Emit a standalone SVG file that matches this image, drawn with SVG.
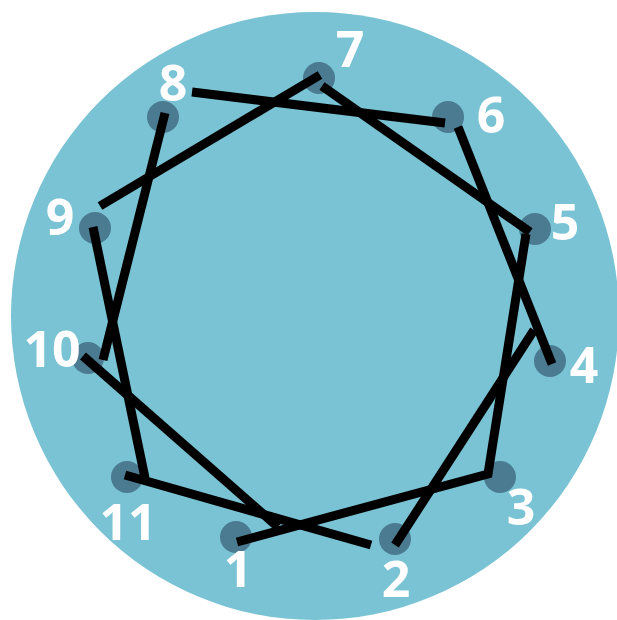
<svg xmlns="http://www.w3.org/2000/svg" width="617" height="620" viewBox="0 0 617 620">
<style>
.bg{fill:#79c3d4}
.dot{fill:#4b7b90}
.lbl{fill:#ffffff;font-family:"Open Sans","Liberation Sans",sans-serif;font-size:50px;font-weight:700;text-anchor:middle}
.ln{fill:none;stroke:#000000;stroke-width:9;stroke-linecap:butt;stroke-linejoin:miter}
</style>
<circle class="bg" cx="315" cy="316" r="304"/>
<g id="n1"><circle class="dot" cx="236" cy="537" r="16"/><text class="lbl" x="238" y="587">1</text></g>
<g id="n2"><circle class="dot" cx="395" cy="539" r="16"/><text class="lbl" x="396" y="597">2</text></g>
<g id="n3"><circle class="dot" cx="500" cy="477" r="16"/><text class="lbl" x="521" y="525">3</text></g>
<g id="n4"><circle class="dot" cx="550" cy="361" r="16"/><text class="lbl" x="584" y="383">4</text></g>
<g id="n5"><circle class="dot" cx="535" cy="229" r="16"/><text class="lbl" x="565" y="240">5</text></g>
<g id="n6"><circle class="dot" cx="448" cy="117" r="16"/><text class="lbl" x="491" y="133">6</text></g>
<g id="n7"><circle class="dot" cx="319" cy="78" r="16"/><text class="lbl" x="350" y="67">7</text></g>
<g id="n8"><circle class="dot" cx="163" cy="117" r="16"/><text class="lbl" x="173" y="101">8</text></g>
<g id="n9"><circle class="dot" cx="95" cy="228" r="16"/><text class="lbl" x="60" y="235">9</text></g>
<g id="n10"><circle class="dot" cx="88" cy="358" r="16"/><text class="lbl" x="52" y="367">10</text></g>
<g id="n11"><circle class="dot" cx="127" cy="477" r="16"/><text class="lbl" x="128" y="540">11</text></g>
<g id="connectors">
<line class="ln" x1="192" y1="92" x2="445" y2="123"/>
<line class="ln" x1="320" y1="75" x2="100" y2="206"/>
<line class="ln" x1="322" y1="86" x2="530" y2="232"/>
<line class="ln" x1="458" y1="127" x2="552" y2="364"/>
<line class="ln" x1="165" y1="113" x2="103" y2="360"/>
<line class="ln" x1="93" y1="227" x2="145" y2="478"/>
<line class="ln" x1="83" y1="356" x2="278" y2="527"/>
<line class="ln" x1="125" y1="475" x2="371" y2="545"/>
<polyline class="ln" points="237,542 488,474 526,234"/>
<line class="ln" x1="395" y1="545" x2="534" y2="330"/>
</g>
</svg>
